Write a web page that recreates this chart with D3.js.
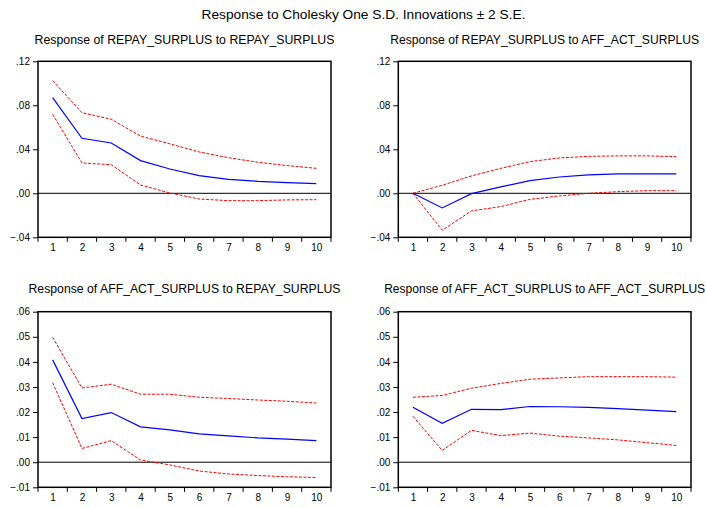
<!DOCTYPE html>
<html>
<head>
<meta charset="utf-8">
<script src="https://cdn.jsdelivr.net/npm/d3@7"></script>
<style>
  html, body { margin: 0; padding: 0; background: #fff; }
  svg { display: block; font-family: "Liberation Sans", Arial, sans-serif; }
</style>
</head>
<body>
<svg id="chart" width="706" height="508"></svg>
<script>
// ---------------- DATA ----------------
const mainTitle = "Response to Cholesky One S.D. Innovations \u00B1 2 S.E.";
const periods = [1, 2, 3, 4, 5, 6, 7, 8, 9, 10];

const panelTitles = [
  "Response of REPAY_SURPLUS to REPAY_SURPLUS",
  "Response of REPAY_SURPLUS to AFF_ACT_SURPLUS",
  "Response of AFF_ACT_SURPLUS to REPAY_SURPLUS",
  "Response of AFF_ACT_SURPLUS to AFF_ACT_SURPLUS"
];

const topTicks = [-0.04, 0.00, 0.04, 0.08, 0.12];
const bottomTicks = [-0.01, 0.00, 0.01, 0.02, 0.03, 0.04, 0.05, 0.06];

// Response of REPAY_SURPLUS to REPAY_SURPLUS
const rr_resp  = [0.0870, 0.0500, 0.0457, 0.0297, 0.0221, 0.0160, 0.0127, 0.0109, 0.0097, 0.0088];
const rr_upper = [0.1024, 0.0733, 0.0673, 0.0520, 0.0450, 0.0376, 0.0324, 0.0282, 0.0252, 0.0227];
const rr_lower = [0.0718, 0.0276, 0.0260, 0.0076, 0.0003, -0.0052, -0.0067, -0.0067, -0.0060, -0.0058];

// Response of REPAY_SURPLUS to AFF_ACT_SURPLUS
const ra_resp  = [0.0000, -0.0133, -0.0003, 0.0058, 0.0115, 0.0148, 0.0167, 0.0176, 0.0176, 0.0176];
const ra_upper = [0.0000, 0.0073, 0.0158, 0.0227, 0.0288, 0.0321, 0.0336, 0.0340, 0.0340, 0.0333];
const ra_lower = [0.0000, -0.0336, -0.0160, -0.0121, -0.0055, -0.0024, 0.0000, 0.0015, 0.0024, 0.0024];

// Response of AFF_ACT_SURPLUS to REPAY_SURPLUS
const ar_resp  = [0.0408, 0.0174, 0.0198, 0.0141, 0.0129, 0.0113, 0.0105, 0.0097, 0.0092, 0.0086];
const ar_upper = [0.0498, 0.0296, 0.0311, 0.0271, 0.0271, 0.0259, 0.0254, 0.0248, 0.0243, 0.0236];
const ar_lower = [0.0317, 0.0055, 0.0086, 0.0009, -0.0011, -0.0035, -0.0047, -0.0053, -0.0058, -0.0061];

// Response of AFF_ACT_SURPLUS to AFF_ACT_SURPLUS
const aa_resp  = [0.0219, 0.0155, 0.0211, 0.0210, 0.0222, 0.0221, 0.0219, 0.0214, 0.0208, 0.0202];
const aa_upper = [0.0259, 0.0266, 0.0295, 0.0314, 0.0331, 0.0336, 0.0341, 0.0341, 0.0341, 0.0339];
const aa_lower = [0.0183, 0.0047, 0.0127, 0.0106, 0.0116, 0.0104, 0.0097, 0.0089, 0.0078, 0.0067];

// ---------------- LAYOUT ----------------
const svg = d3.select("#chart");

const panels = [
  { title: panelTitles[0], titleW: 300, resp: rr_resp, upper: rr_upper, lower: rr_lower,
    ticks: topTicks, x0: 38, x1: 331, y0: 61.3, y1: 237.3, titleY: 43.5 },
  { title: panelTitles[1], titleW: 309, resp: ra_resp, upper: ra_upper, lower: ra_lower,
    ticks: topTicks, x0: 398.3, x1: 691, y0: 61.3, y1: 237.3, titleY: 43.5 },
  { title: panelTitles[2], titleW: 312, resp: ar_resp, upper: ar_upper, lower: ar_lower,
    ticks: bottomTicks, x0: 38, x1: 331, y0: 311.7, y1: 487.3, titleY: 293 },
  { title: panelTitles[3], titleW: 321, resp: aa_resp, upper: aa_upper, lower: aa_lower,
    ticks: bottomTicks, x0: 398.3, x1: 691, y0: 311.7, y1: 487.3, titleY: 293 }
];

svg.append("text")
  .attr("x", 363.5).attr("y", 18.5)
  .attr("text-anchor", "middle")
  .attr("font-size", 13)
  .attr("textLength", 324).attr("lengthAdjust", "spacingAndGlyphs")
  .attr("fill", "#000")
  .text(mainTitle);

const fmt = v => {
  const s = d3.format(".2f")(v);
  return s.replace("0.", ".");
};

panels.forEach(p => {
  const g = svg.append("g");
  const x = d3.scaleBand().domain(periods).range([p.x0, p.x1]).padding(0);
  const y = d3.scaleLinear().domain([p.ticks[0], p.ticks[p.ticks.length - 1]]).range([p.y1, p.y0]);
  const cx = d => x(d) + x.bandwidth() / 2;

  // title
  g.append("text")
    .attr("x", (p.x0 + p.x1) / 2).attr("y", p.titleY)
    .attr("text-anchor", "middle")
    .attr("font-size", 12)
    .attr("textLength", p.titleW).attr("lengthAdjust", "spacingAndGlyphs")
    .attr("fill", "#000")
    .text(p.title);

  // y axis
  const ya = g.append("g")
    .attr("transform", `translate(${p.x0},0)`)
    .call(d3.axisLeft(y).tickValues(p.ticks).tickFormat(fmt).tickSize(5).tickPadding(3));
  ya.select(".domain").remove();
  ya.selectAll("text").attr("font-size", 10).attr("font-family", "Liberation Sans, Arial, sans-serif").attr("fill", "#000");
  ya.selectAll("line").attr("stroke", "#000");

  // x axis: labels at band centres, tick marks at band boundaries
  const xa = g.append("g")
    .attr("transform", `translate(0,${p.y1})`)
    .call(d3.axisBottom(d3.scalePoint().domain(periods).range([cx(periods[0]), cx(periods[periods.length - 1])]))
      .tickSize(0).tickPadding(7));
  xa.select(".domain").remove();
  xa.selectAll("text").attr("font-size", 10).attr("font-family", "Liberation Sans, Arial, sans-serif").attr("fill", "#000");
  const bounds = periods.map(d => x(d)).concat([x.range()[1]]);
  g.append("g").selectAll("line").data(bounds).join("line")
    .attr("x1", d => d).attr("x2", d => d)
    .attr("y1", p.y1).attr("y2", p.y1 + 4.5)
    .attr("stroke", "#000").attr("stroke-width", 1);

  // zero line
  g.append("line")
    .attr("x1", p.x0).attr("x2", p.x1)
    .attr("y1", y(0)).attr("y2", y(0))
    .attr("stroke", "#000").attr("stroke-width", 1);

  const line = d3.line().x((d, i) => cx(periods[i])).y(d => y(d));

  g.append("path").datum(p.upper).attr("d", line)
    .attr("fill", "none").attr("stroke", "#ff0000").attr("stroke-width", 1)
    .attr("stroke-dasharray", "3,1.5");
  g.append("path").datum(p.lower).attr("d", line)
    .attr("fill", "none").attr("stroke", "#ff0000").attr("stroke-width", 1)
    .attr("stroke-dasharray", "3,1.5");
  g.append("path").datum(p.resp).attr("d", line)
    .attr("fill", "none").attr("stroke", "#0000ff").attr("stroke-width", 1.2);

  // frame
  g.append("rect")
    .attr("x", p.x0).attr("y", p.y0)
    .attr("width", p.x1 - p.x0).attr("height", p.y1 - p.y0)
    .attr("fill", "none").attr("stroke", "#000").attr("stroke-width", 1.5);
});
</script>
</body>
</html>
